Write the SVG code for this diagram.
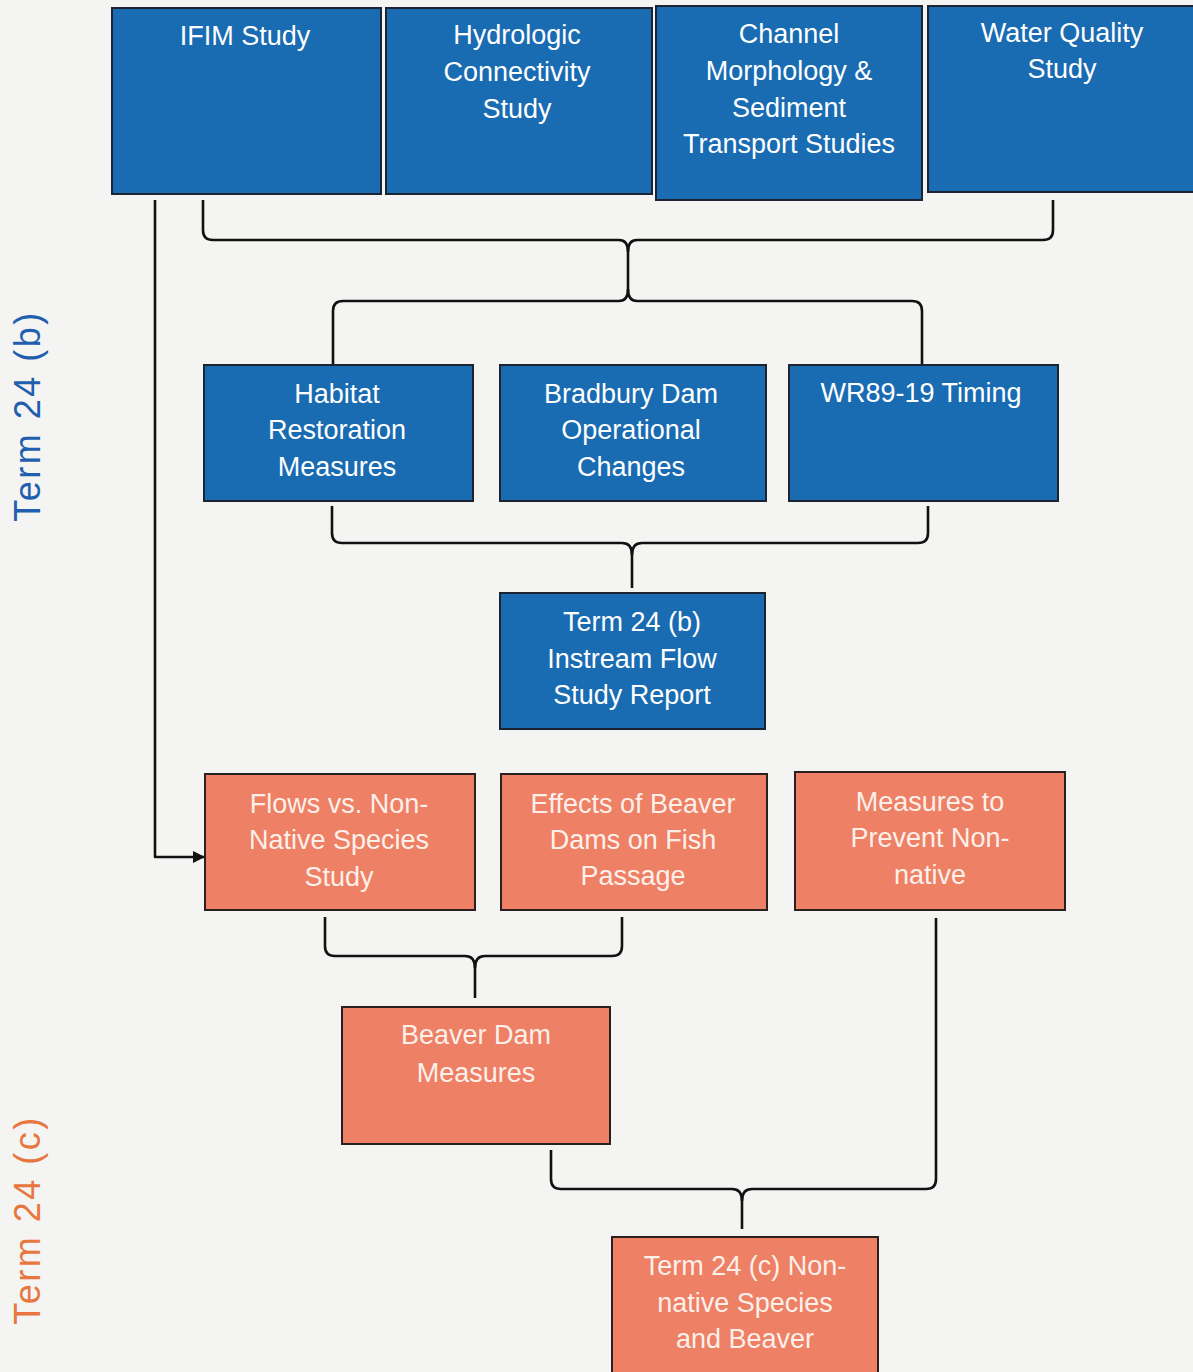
<svg xmlns="http://www.w3.org/2000/svg" width="1193" height="1372" viewBox="0 0 1193 1372">
<style>
.blue{fill:#196bb2;stroke:#1b2430;stroke-width:2}
.sal{fill:#ee8065;stroke:#2a2020;stroke-width:2}
.t{font-family:"Liberation Sans",Arial,sans-serif;font-size:27px;fill:#ffffff;text-anchor:middle}
.ts{font-family:"Liberation Sans",Arial,sans-serif;font-size:27px;fill:#fdf0ea;text-anchor:middle}
.con{fill:none;stroke:#111;stroke-width:2.6;stroke-linejoin:round}
.side{font-family:"Liberation Sans",Arial,sans-serif;font-size:36px;letter-spacing:2.5px;text-anchor:middle}
</style>
<defs>
<marker id="arr" markerWidth="12" markerHeight="12" refX="11" refY="6" orient="auto" markerUnits="userSpaceOnUse">
<path d="M0,0 L12,6 L0,12 Z" fill="#111"/>
</marker>
</defs>
<rect width="1193" height="1372" fill="#f4f4f3"/>

<g id="connectors">
<path class="con" d="M203,200 V230 Q203,240 213,240 H619 Q628,240 628,252"/>
<path class="con" d="M1053,200 V230 Q1053,240 1043,240 H637 Q628,240 628,252"/>
<path class="con" d="M628,252 V289"/>
<path class="con" d="M628,289 Q628,301 619,301 H343 Q333,301 333,311 V365"/>
<path class="con" d="M628,289 Q628,301 637,301 H912 Q922,301 922,311 V365"/>
<path class="con" d="M332,506 V533 Q332,543 342,543 H622 Q632,543 632,555 V588"/>
<path class="con" d="M928,506 V533 Q928,543 918,543 H642 Q632,543 632,555"/>
<path class="con" d="M325,917 V946 Q325,956 335,956 H465 Q475,956 475,968 V998"/>
<path class="con" d="M622,917 V946 Q622,956 612,956 H485 Q475,956 475,968"/>
<path class="con" d="M551,1150 V1179 Q551,1189 561,1189 H732 Q742,1189 742,1201 V1229"/>
<path class="con" d="M936,918 V1179 Q936,1189 926,1189 H752 Q742,1189 742,1201"/>
<path class="con" d="M155,200 V857 H204" marker-end="url(#arr)"/>
</g>

<g id="ifim"><rect class="blue" x="112" y="8" width="269" height="186"/><text class="t" x="245" y="45">IFIM Study</text></g>
<g id="hydro"><rect class="blue" x="386" y="8" width="266" height="186"/><text class="t" x="517" y="44">Hydrologic</text><text class="t" x="517" y="81">Connectivity</text><text class="t" x="517" y="118">Study</text></g>
<g id="channel"><rect class="blue" x="656" y="6" width="266" height="194"/><text class="t" x="789" y="43">Channel</text><text class="t" x="789" y="80">Morphology &amp;</text><text class="t" x="789" y="117">Sediment</text><text class="t" x="789" y="153">Transport Studies</text></g>
<g id="wq"><rect class="blue" x="928" y="6" width="270" height="186"/><text class="t" x="1062" y="42">Water Quality</text><text class="t" x="1062" y="78">Study</text></g>

<g id="habitat"><rect class="blue" x="204" y="365" width="269" height="136"/><text class="t" x="337" y="403">Habitat</text><text class="t" x="337" y="439">Restoration</text><text class="t" x="337" y="476">Measures</text></g>
<g id="bradbury"><rect class="blue" x="500" y="365" width="266" height="136"/><text class="t" x="631" y="403">Bradbury Dam</text><text class="t" x="631" y="439">Operational</text><text class="t" x="631" y="476">Changes</text></g>
<g id="wr89"><rect class="blue" x="789" y="365" width="269" height="136"/><text class="t" x="921" y="402">WR89-19 Timing</text></g>

<g id="term24b"><rect class="blue" x="500" y="593" width="265" height="136"/><text class="t" x="632" y="631">Term 24 (b)</text><text class="t" x="632" y="668">Instream Flow</text><text class="t" x="632" y="704">Study Report</text></g>

<g id="flows"><rect class="sal" x="205" y="774" width="270" height="136"/><text class="ts" x="339" y="813">Flows vs. Non-</text><text class="ts" x="339" y="849">Native Species</text><text class="ts" x="339" y="886">Study</text></g>
<g id="effects"><rect class="sal" x="501" y="774" width="266" height="136"/><text class="ts" x="633" y="813">Effects of Beaver</text><text class="ts" x="633" y="849">Dams on Fish</text><text class="ts" x="633" y="885">Passage</text></g>
<g id="measures"><rect class="sal" x="795" y="772" width="270" height="138"/><text class="ts" x="930" y="811">Measures to</text><text class="ts" x="930" y="847">Prevent Non-</text><text class="ts" x="930" y="884">native</text></g>

<g id="beaver"><rect class="sal" x="342" y="1007" width="268" height="137"/><text class="ts" x="476" y="1044">Beaver Dam</text><text class="ts" x="476" y="1082">Measures</text></g>
<g id="term24c"><rect class="sal" x="612" y="1237" width="266" height="140"/><text class="ts" x="745" y="1275">Term 24 (c) Non-</text><text class="ts" x="745" y="1312">native Species</text><text class="ts" x="745" y="1348">and Beaver</text></g>

<text class="side" transform="translate(40,416) rotate(-90)" fill="#1f5fae">Term 24 (b)</text>
<text class="side" transform="translate(40,1220) rotate(-90)" fill="#e8773f">Term 24 (c)</text>
</svg>
